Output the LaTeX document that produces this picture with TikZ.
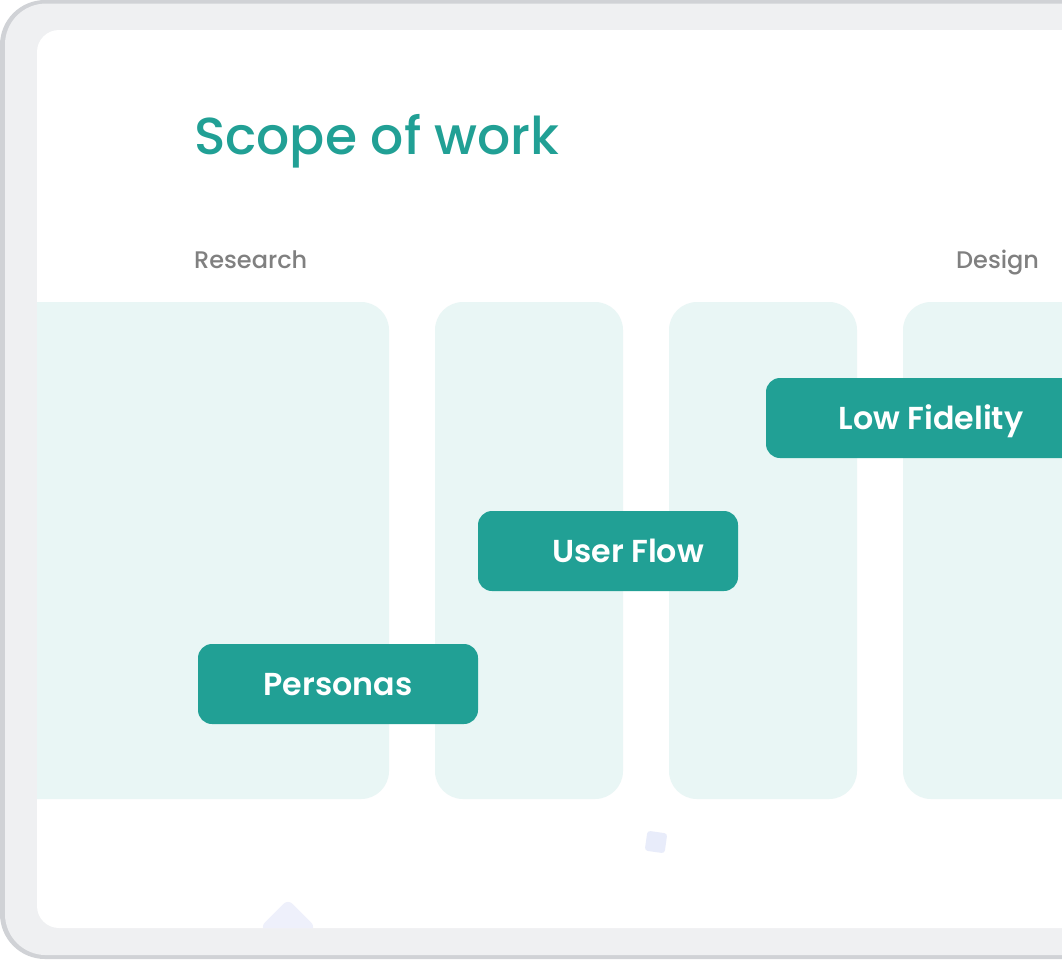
\documentclass[tikz,border=0pt]{standalone}
\usepackage{fontspec}
\setmainfont{Poppins}[BoldFont={Poppins SemiBold}]
\newfontfamily\mediumfont{Poppins Medium}
\definecolor{framegray}{HTML}{D0D2D6}
\definecolor{framefill}{HTML}{EFF0F2}
\definecolor{barfill}{HTML}{E9F6F5}
\definecolor{chipteal}{HTML}{21A095}
\definecolor{labelgray}{HTML}{808080}
\definecolor{markfill}{HTML}{E8ECFA}
\definecolor{kitefill}{HTML}{EEF0FB}
\tikzset{
    barbox/.style={rectangle, fill=barfill, rounded corners=28pt, minimum height=497pt, inner sep=0pt},
    chipbox/.style={rectangle, fill=chipteal, rounded corners=14pt, minimum height=80pt, inner sep=0pt,
        text=white, font=\fontsize{31.7}{36}\selectfont\bfseries, text height=24pt, text depth=1pt},
    phaselabel/.style={anchor=base west, inner sep=0pt, text=labelgray, font=\fontsize{24}{30}\selectfont\mediumfont}
}
\begin{document}
\begin{tikzpicture}[x=1pt,y=-1pt]
\useasboundingbox (0,0) rectangle (1062,959);
\clip (0,0) rectangle (1062,959);

% Device frame
\node[rectangle, fill=framegray, rounded corners=45pt, minimum width=1200pt, minimum height=959pt, inner sep=0pt] (frameouter) at (600,479.5) {};
\node[rectangle, fill=framefill, rounded corners=41pt, minimum width=1200pt, minimum height=951.5pt, inner sep=0pt] (frameinner) at (605,479.3) {};
\node[rectangle, fill=white, rounded corners=22pt, minimum width=1200pt, minimum height=898pt, inner sep=0pt] (card) at (637,479) {};

\begin{scope}
\clip[rounded corners=22pt] (37,30) rectangle (1200,928);

% Small marks
\node[rectangle, fill=kitefill, rounded corners=6pt, minimum size=39pt, inner sep=0pt, rotate=45] (kite) at (288,927) {};
\node[rectangle, fill=markfill, rounded corners=3pt, minimum size=20pt, inner sep=0pt, rotate=-8] (mark) at (656,842) {};

% Columns
\node[barbox, minimum width=400pt] (barone) at (189,550.5) {};
\node[barbox, minimum width=188pt] (bartwo) at (529,550.5) {};
\node[barbox, minimum width=188pt] (barthree) at (763,550.5) {};
\node[barbox, minimum width=300pt] (barfour) at (1053,550.5) {};
\end{scope}

% Headings
\node[anchor=base west, inner sep=0pt, text=chipteal, font=\fontsize{52}{60}\selectfont\mediumfont] (title) at (194,154.5) {Scope of work};
\node[phaselabel] (research) at (194,268) {Research};
\node[phaselabel] (design) at (956,268) {Design};

% Task chips
\node[chipbox, minimum width=280pt] (personas) at (338,684) {Personas};
\node[chipbox, minimum width=260pt] (userflow) at (608,551) {\hspace*{40pt}User Flow};
\node[chipbox, minimum width=330pt] (lowfidelity) at (931,418) {Low Fidelity};

\end{tikzpicture}
\end{document}
